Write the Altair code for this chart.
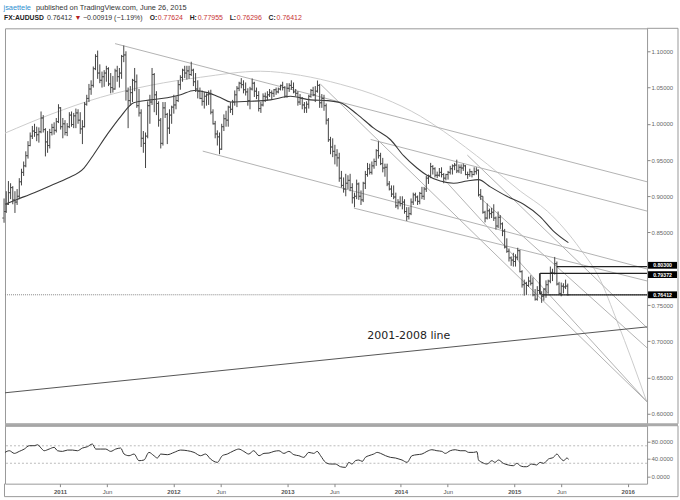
import altair as alt
import pandas as pd

# ---------------- data ----------------
# weekly bars (open, high, low, close), one list per calendar year
bars_2010 = [
    (0.8700, 0.8970, 0.8635, 0.8790), (0.8790, 0.9070, 0.8770, 0.8890), (0.8890, 0.9210, 0.8880, 0.9050),
    (0.9050, 0.9180, 0.8960, 0.9120), (0.9120, 0.9140, 0.8890, 0.8950), (0.8950, 0.9070, 0.8770, 0.8920),
    (0.8920, 0.9100, 0.8880, 0.9000), (0.9000, 0.9250, 0.8960, 0.9200), (0.9200, 0.9380, 0.9150, 0.9330),
    (0.9330, 0.9480, 0.9280, 0.9420), (0.9420, 0.9620, 0.9400, 0.9560), (0.9560, 0.9760, 0.9520, 0.9700),
    (0.9700, 0.9880, 0.9690, 0.9830), (0.9830, 0.9970, 0.9790, 0.9900), (0.9900, 1.0000, 0.9820, 0.9880),
    (0.9880, 0.9960, 0.9760, 0.9850), (0.9850, 0.9950, 0.9740, 0.9890), (0.9890, 1.0170, 0.9870, 1.0080),
    (1.0080, 1.0120, 0.9880, 0.9920), (0.9920, 0.9940, 0.9550, 0.9750), (0.9750, 0.9900, 0.9600, 0.9700),
    (0.9700, 0.9930, 0.9660, 0.9880), (0.9880, 1.0000, 0.9840, 0.9950), (0.9950, 1.0020, 0.9850, 0.9910),
    (0.9910, 1.0080, 0.9880, 1.0030), (1.0030, 1.0270, 1.0010, 1.0220),
]
bars_2011 = [
    (1.0220, 1.0230, 0.9920, 0.9960), (0.9960, 1.0080, 0.9800, 1.0000), (1.0000, 1.0050, 0.9840, 0.9880),
    (0.9880, 1.0010, 0.9830, 0.9960), (0.9960, 1.0160, 0.9940, 1.0120), (1.0120, 1.0170, 0.9960, 0.9990),
    (0.9990, 1.0150, 0.9940, 1.0110), (1.0110, 1.0210, 0.9940, 1.0150), (1.0150, 1.0200, 1.0000, 1.0050),
    (1.0050, 1.0160, 0.9860, 0.9930), (0.9930, 1.0050, 0.9720, 0.9960), (0.9960, 1.0300, 0.9950, 1.0270),
    (1.0270, 1.0400, 1.0250, 1.0350), (1.0350, 1.0550, 1.0300, 1.0480), (1.0480, 1.0600, 1.0400, 1.0530),
    (1.0530, 1.0790, 1.0500, 1.0760), (1.0760, 1.0960, 1.0740, 1.0930), (1.0930, 1.1010, 1.0620, 1.0700),
    (1.0700, 1.0820, 1.0560, 1.0600), (1.0600, 1.0720, 1.0500, 1.0650), (1.0650, 1.0740, 1.0510, 1.0700),
    (1.0700, 1.0800, 1.0580, 1.0760), (1.0760, 1.0780, 1.0520, 1.0550), (1.0550, 1.0700, 1.0420, 1.0500),
    (1.0500, 1.0660, 1.0430, 1.0480), (1.0480, 1.0760, 1.0470, 1.0730), (1.0730, 1.0800, 1.0580, 1.0650),
    (1.0650, 1.0770, 1.0500, 1.0700), (1.0700, 1.0950, 1.0620, 1.0930), (1.0930, 1.1080, 1.0850, 1.0950),
    (1.0950, 1.1000, 1.0320, 1.0450), (1.0450, 1.0500, 0.9940, 1.0320), (1.0320, 1.0520, 1.0250, 1.0430),
    (1.0430, 1.0620, 1.0300, 1.0600), (1.0600, 1.0770, 1.0450, 1.0580), (1.0580, 1.0680, 1.0220, 1.0250),
    (1.0250, 1.0480, 1.0100, 1.0150), (1.0150, 1.0200, 0.9680, 0.9800), (0.9800, 0.9900, 0.9600, 0.9730),
    (0.9730, 0.9880, 0.9390, 0.9830), (0.9830, 1.0310, 0.9800, 1.0250), (1.0250, 1.0400, 1.0000, 1.0300),
    (1.0300, 1.0770, 1.0260, 1.0680), (1.0680, 1.0700, 1.0160, 1.0400), (1.0400, 1.0450, 1.0120, 1.0280),
    (1.0280, 1.0310, 0.9960, 1.0050), (1.0050, 1.0080, 0.9660, 0.9730), (0.9730, 1.0300, 0.9700, 1.0220),
    (1.0220, 1.0300, 1.0080, 1.0130), (1.0130, 1.0150, 0.9720, 0.9940), (0.9940, 1.0200, 0.9860, 1.0120),
    (1.0120, 1.0250, 1.0000, 1.0230),
]
bars_2012 = [
    (1.0230, 1.0400, 1.0140, 1.0260), (1.0260, 1.0380, 1.0200, 1.0320), (1.0320, 1.0600, 1.0300, 1.0540),
    (1.0540, 1.0670, 1.0470, 1.0640), (1.0640, 1.0760, 1.0580, 1.0740), (1.0740, 1.0800, 1.0630, 1.0700),
    (1.0700, 1.0800, 1.0610, 1.0730), (1.0730, 1.0800, 1.0620, 1.0680), (1.0680, 1.0856, 1.0660, 1.0740),
    (1.0740, 1.0760, 1.0520, 1.0580), (1.0580, 1.0700, 1.0440, 1.0480), (1.0480, 1.0600, 1.0350, 1.0450),
    (1.0450, 1.0500, 1.0340, 1.0350), (1.0350, 1.0460, 1.0250, 1.0310), (1.0310, 1.0440, 1.0210, 1.0380),
    (1.0380, 1.0420, 1.0250, 1.0400), (1.0400, 1.0460, 1.0260, 1.0410), (1.0410, 1.0470, 1.0130, 1.0160),
    (1.0160, 1.0200, 0.9990, 1.0000), (1.0000, 1.0040, 0.9800, 0.9860), (0.9860, 0.9910, 0.9700, 0.9820),
    (0.9820, 0.9880, 0.9580, 0.9650), (0.9650, 1.0000, 0.9640, 0.9960), (0.9960, 1.0130, 0.9900, 1.0070),
    (1.0070, 1.0180, 0.9960, 1.0050), (1.0050, 1.0250, 0.9960, 1.0230), (1.0230, 1.0300, 1.0150, 1.0200),
    (1.0200, 1.0330, 1.0120, 1.0300), (1.0300, 1.0460, 1.0250, 1.0400), (1.0400, 1.0520, 1.0230, 1.0490),
    (1.0490, 1.0580, 1.0450, 1.0560), (1.0560, 1.0630, 1.0490, 1.0540), (1.0540, 1.0600, 1.0420, 1.0470),
    (1.0470, 1.0570, 1.0390, 1.0440), (1.0440, 1.0490, 1.0250, 1.0320), (1.0320, 1.0510, 1.0200, 1.0480),
    (1.0480, 1.0625, 1.0460, 1.0560), (1.0560, 1.0580, 1.0370, 1.0450), (1.0450, 1.0500, 1.0340, 1.0390),
    (1.0390, 1.0450, 1.0170, 1.0210), (1.0210, 1.0300, 1.0150, 1.0260), (1.0260, 1.0420, 1.0240, 1.0380),
    (1.0380, 1.0430, 1.0300, 1.0370), (1.0370, 1.0450, 1.0320, 1.0400), (1.0400, 1.0480, 1.0370, 1.0430),
    (1.0430, 1.0460, 1.0330, 1.0420), (1.0420, 1.0480, 1.0370, 1.0470), (1.0470, 1.0500, 1.0400, 1.0440),
    (1.0440, 1.0500, 1.0420, 1.0480), (1.0480, 1.0540, 1.0460, 1.0530), (1.0530, 1.0580, 1.0460, 1.0500),
    (1.0500, 1.0520, 1.0360, 1.0380), (1.0380, 1.0560, 1.0360, 1.0490),
]
bars_2013 = [
    (1.0490, 1.0560, 1.0440, 1.0530), (1.0530, 1.0600, 1.0470, 1.0500), (1.0500, 1.0570, 1.0420, 1.0440),
    (1.0440, 1.0480, 1.0380, 1.0420), (1.0420, 1.0450, 1.0250, 1.0300), (1.0300, 1.0410, 1.0260, 1.0350),
    (1.0350, 1.0370, 1.0200, 1.0260), (1.0260, 1.0300, 1.0150, 1.0220), (1.0220, 1.0310, 1.0150, 1.0270),
    (1.0270, 1.0400, 1.0210, 1.0380), (1.0380, 1.0480, 1.0360, 1.0460), (1.0460, 1.0510, 1.0380, 1.0400),
    (1.0400, 1.0520, 1.0300, 1.0450), (1.0450, 1.0597, 1.0430, 1.0530), (1.0530, 1.0550, 1.0220, 1.0290),
    (1.0290, 1.0410, 1.0220, 1.0350), (1.0350, 1.0400, 1.0180, 1.0250), (1.0250, 1.0280, 0.9990, 1.0050),
    (1.0050, 1.0080, 0.9750, 0.9780), (0.9780, 0.9820, 0.9580, 0.9680), (0.9680, 0.9800, 0.9540, 0.9620),
    (0.9620, 0.9710, 0.9440, 0.9570), (0.9570, 0.9650, 0.9410, 0.9530), (0.9530, 0.9600, 0.9200, 0.9250),
    (0.9250, 0.9350, 0.9120, 0.9150), (0.9150, 0.9260, 0.9050, 0.9100), (0.9100, 0.9310, 0.9000, 0.9180),
    (0.9180, 0.9290, 0.9100, 0.9220), (0.9220, 0.9310, 0.9070, 0.9120), (0.9120, 0.9180, 0.8900, 0.8980),
    (0.8980, 0.9050, 0.8848, 0.9000), (0.9000, 0.9230, 0.8960, 0.9170), (0.9170, 0.9190, 0.8950, 0.9000),
    (0.9000, 0.9080, 0.8880, 0.8950), (0.8950, 0.9200, 0.8920, 0.9180), (0.9180, 0.9350, 0.9100, 0.9300),
    (0.9300, 0.9460, 0.9270, 0.9380), (0.9380, 0.9450, 0.9300, 0.9330), (0.9330, 0.9480, 0.9300, 0.9420),
    (0.9420, 0.9520, 0.9380, 0.9480), (0.9480, 0.9650, 0.9420, 0.9630), (0.9630, 0.9758, 0.9520, 0.9560),
    (0.9560, 0.9600, 0.9430, 0.9450), (0.9450, 0.9530, 0.9330, 0.9390), (0.9390, 0.9450, 0.9270, 0.9400),
    (0.9400, 0.9450, 0.9140, 0.9170), (0.9170, 0.9210, 0.9080, 0.9100), (0.9100, 0.9150, 0.8990, 0.9030),
    (0.9030, 0.9150, 0.8960, 0.8990), (0.8990, 0.9050, 0.8840, 0.8870), (0.8870, 0.8960, 0.8820, 0.8920),
    (0.8920, 0.9000, 0.8860, 0.8900),
]
bars_2014 = [
    (0.8900, 0.9000, 0.8820, 0.8920), (0.8920, 0.8960, 0.8760, 0.8790), (0.8790, 0.8850, 0.8660, 0.8720),
    (0.8720, 0.8850, 0.8680, 0.8760), (0.8760, 0.8970, 0.8740, 0.8920), (0.8920, 0.9050, 0.8880, 0.9020),
    (0.9020, 0.9050, 0.8930, 0.8990), (0.8990, 0.9010, 0.8880, 0.8930), (0.8930, 0.9060, 0.8890, 0.9040),
    (0.9040, 0.9130, 0.8960, 0.9000), (0.9000, 0.9130, 0.8950, 0.9100), (0.9100, 0.9280, 0.9060, 0.9250),
    (0.9250, 0.9300, 0.9170, 0.9280), (0.9280, 0.9461, 0.9250, 0.9410), (0.9410, 0.9430, 0.9300, 0.9380),
    (0.9380, 0.9400, 0.9260, 0.9290), (0.9290, 0.9340, 0.9250, 0.9290), (0.9290, 0.9390, 0.9270, 0.9330),
    (0.9330, 0.9400, 0.9260, 0.9300), (0.9300, 0.9320, 0.9180, 0.9250), (0.9250, 0.9310, 0.9220, 0.9300),
    (0.9300, 0.9350, 0.9230, 0.9330), (0.9330, 0.9420, 0.9300, 0.9380), (0.9380, 0.9440, 0.9300, 0.9420),
    (0.9420, 0.9460, 0.9360, 0.9430), (0.9430, 0.9505, 0.9320, 0.9350), (0.9350, 0.9440, 0.9320, 0.9400),
    (0.9400, 0.9440, 0.9310, 0.9390), (0.9390, 0.9450, 0.9350, 0.9420), (0.9420, 0.9430, 0.9290, 0.9300),
    (0.9300, 0.9340, 0.9240, 0.9300), (0.9300, 0.9380, 0.9270, 0.9340), (0.9340, 0.9350, 0.9260, 0.9300),
    (0.9300, 0.9400, 0.9290, 0.9340), (0.9340, 0.9400, 0.9300, 0.9360), (0.9360, 0.9370, 0.9000, 0.9020),
    (0.9020, 0.9100, 0.8950, 0.9000), (0.9000, 0.9000, 0.8760, 0.8780), (0.8780, 0.8800, 0.8640, 0.8700),
    (0.8700, 0.8900, 0.8680, 0.8800), (0.8800, 0.8830, 0.8690, 0.8760), (0.8760, 0.8840, 0.8700, 0.8780),
    (0.8780, 0.8890, 0.8660, 0.8700), (0.8700, 0.8720, 0.8540, 0.8590), (0.8590, 0.8790, 0.8560, 0.8710),
    (0.8710, 0.8740, 0.8550, 0.8620), (0.8620, 0.8640, 0.8450, 0.8520), (0.8520, 0.8550, 0.8280, 0.8300),
    (0.8300, 0.8420, 0.8220, 0.8240), (0.8240, 0.8280, 0.8100, 0.8150), (0.8150, 0.8170, 0.8040, 0.8120),
    (0.8120, 0.8220, 0.8030, 0.8100),
]
bars_2015 = [
    (0.8100, 0.8200, 0.8030, 0.8160), (0.8160, 0.8290, 0.8120, 0.8250), (0.8250, 0.8260, 0.7950, 0.7960),
    (0.7960, 0.7980, 0.7740, 0.7780), (0.7780, 0.7850, 0.7630, 0.7800), (0.7800, 0.7820, 0.7640, 0.7770),
    (0.7770, 0.7890, 0.7750, 0.7830), (0.7830, 0.7910, 0.7770, 0.7800), (0.7800, 0.7880, 0.7620, 0.7640),
    (0.7640, 0.7720, 0.7560, 0.7580), (0.7580, 0.7760, 0.7560, 0.7700), (0.7700, 0.7937, 0.7660, 0.7660),
    (0.7660, 0.7690, 0.7530, 0.7620), (0.7620, 0.7730, 0.7560, 0.7720), (0.7720, 0.7840, 0.7600, 0.7780),
    (0.7780, 0.7850, 0.7660, 0.7830), (0.7830, 0.8030, 0.7800, 0.7950), (0.7950, 0.8000, 0.7830, 0.7940),
    (0.7940, 0.8163, 0.7920, 0.8070), (0.8070, 0.8100, 0.7770, 0.7790), (0.7790, 0.7820, 0.7640, 0.7660),
    (0.7660, 0.7810, 0.7620, 0.7760), (0.7760, 0.7800, 0.7660, 0.7750), (0.7750, 0.7850, 0.7720, 0.7760),
    (0.77624, 0.77955, 0.76296, 0.76412),
]
first_week = "2010-07-05"

# moving average (sampled along the drawn curve)
ma_dates = ["2010-07-08", "2010-08-18", "2010-10-10", "2010-12-03", "2011-01-25", "2011-03-19", "2011-04-20",
            "2011-06-03", "2011-07-15", "2011-08-26", "2011-10-20", "2011-12-12", "2012-01-24", "2012-03-07",
            "2012-04-19", "2012-06-01", "2012-07-03", "2012-09-05", "2012-11-08", "2013-01-11", "2013-03-17",
            "2013-05-10", "2013-06-21", "2013-08-14", "2013-10-06", "2013-11-29", "2014-01-10", "2014-02-22",
            "2014-03-26", "2014-05-08", "2014-06-20", "2014-08-02", "2014-09-08", "2014-10-16", "2014-12-08",
            "2015-01-31", "2015-03-25", "2015-05-07", "2015-06-24"]
ma_values = [0.889, 0.896, 0.905, 0.915, 0.925, 0.939, 0.958, 0.986, 1.010, 1.029, 1.033, 1.036, 1.040, 1.046,
             1.043, 1.036, 1.030, 1.031, 1.033, 1.038, 1.033, 1.032, 1.029, 1.013, 0.994, 0.978, 0.956, 0.939,
             0.929, 0.921, 0.918, 0.921, 0.923, 0.913, 0.900, 0.889, 0.872, 0.852, 0.836]

# RSI sub-panel
rsi_dates = ["2010-07-08", "2010-07-22", "2010-08-07", "2010-08-23", "2010-09-08", "2010-09-24", "2010-10-10",
             "2010-10-21", "2010-11-01", "2010-11-11", "2010-11-27", "2010-12-13", "2010-12-24", "2011-01-09",
             "2011-01-25", "2011-02-10", "2011-02-26", "2011-03-14", "2011-03-30", "2011-04-15", "2011-04-26",
             "2011-05-12", "2011-05-28", "2011-06-13", "2011-06-29", "2011-07-15", "2011-07-26", "2011-08-11",
             "2011-08-27", "2011-09-12", "2011-09-28", "2011-10-14", "2011-10-30", "2011-11-10", "2011-11-21",
             "2011-12-12", "2012-01-03", "2012-01-24", "2012-02-15", "2012-03-07", "2012-03-28", "2012-04-13",
             "2012-04-29", "2012-05-21", "2012-06-06", "2012-06-22", "2012-07-13", "2012-07-29", "2012-08-14",
             "2012-08-30", "2012-09-15", "2012-10-02", "2012-10-18", "2012-11-03", "2012-11-19", "2012-12-05",
             "2012-12-21", "2013-01-06", "2013-01-22", "2013-02-07", "2013-02-23", "2013-03-11", "2013-03-27",
             "2013-04-07", "2013-04-18", "2013-05-04", "2013-05-20", "2013-06-05", "2013-06-21", "2013-07-07",
             "2013-07-18", "2013-07-28", "2013-08-08", "2013-08-19", "2013-08-30", "2013-09-09", "2013-09-20",
             "2013-10-06", "2013-10-17", "2013-10-28", "2013-11-13", "2013-11-29", "2013-12-15", "2013-12-26",
             "2014-01-05", "2014-01-21", "2014-02-06", "2014-02-22", "2014-03-10", "2014-03-26", "2014-04-11",
             "2014-04-27", "2014-05-13", "2014-05-24", "2014-06-09", "2014-06-25", "2014-07-11", "2014-07-27",
             "2014-08-07", "2014-08-23", "2014-09-03", "2014-09-08", "2014-09-19", "2014-10-05", "2014-10-21",
             "2014-10-31", "2014-11-11", "2014-11-27", "2014-12-13", "2014-12-29", "2015-01-09", "2015-01-20",
             "2015-01-31", "2015-02-10", "2015-02-26", "2015-03-14", "2015-03-25", "2015-04-05", "2015-04-21",
             "2015-05-07", "2015-05-18", "2015-05-29", "2015-06-09", "2015-06-19", "2015-06-25"]
rsi_values = [54.9, 58.7, 52.6, 57.2, 62.5, 70.2, 70.2, 72.4, 64.8, 58.7, 62.5, 66.4, 58.7, 57.2,
              60.2, 60.2, 58.7, 64.8, 67.9, 74.0, 62.5, 62.5, 62.5, 57.2, 62.5, 64.8, 51.1, 47.3,
              51.1, 35.9, 37.4, 54.9, 47.3, 42.0, 51.1, 49.6, 54.9, 60.2, 58.7, 54.9, 47.3, 51.1,
              39.7, 32.1, 47.3, 51.1, 58.7, 62.5, 57.2, 51.1, 58.7, 47.3, 52.6, 53.4, 57.2, 58.7,
              52.6, 57.2, 49.6, 47.3, 43.5, 54.9, 52.6, 57.2, 47.3, 32.1, 28.2, 28.2, 22.1, 20.6,
              32.1, 28.2, 35.9, 37.4, 34.3, 43.5, 47.3, 51.1, 54.9, 52.6, 47.3, 43.5, 42.0, 39.7,
              37.4, 32.1, 47.3, 49.6, 51.1, 57.2, 61.0, 58.7, 57.2, 52.6, 58.7, 61.0, 58.7, 58.7,
              54.9, 54.9, 56.4, 37.4, 32.1, 28.2, 35.9, 32.1, 37.4, 29.8, 26.0, 24.4, 29.8, 24.4,
              22.1, 22.1, 28.2, 26.0, 32.1, 29.8, 39.7, 43.5, 51.1, 42.0, 35.9, 42.0, 39.0]

# straight trend lines (start date, start price) -> (end date, end price)
trend_start_dates = ["2011-06-27", "2013-09-26", "2012-04-04", "2013-08-03", "2013-04-18", "2014-08-03",
                     "2014-09-07", "2014-06-03"]
trend_start_values = [1.1106, 0.9784, 0.9623, 0.8837, 1.0545, 0.9568, 0.9003, 0.9168]
trend_end_dates = ["2016-03-03"] * 8
trend_end_values = [0.9200, 0.8796, 0.7997, 0.7832, 0.6165, 0.7185, 0.6909, 0.6165]

# the "2001-2008 line"
line0108_dates = ["2010-07-08", "2016-03-03"]
line0108_values = [0.6289, 0.7198]
line0108_label = "2001-2008 line"
line0108_label_date = "2013-09-15"
line0108_label_value = 0.7074

# curved arc
arc_dates = ["2010-07-08", "2010-12-03", "2011-05-12", "2011-10-20", "2012-03-28", "2012-10-07", "2013-02-12",
             "2013-06-21", "2013-11-06", "2014-03-05", "2014-05-18", "2014-10-06", "2015-01-20", "2015-04-17",
             "2015-08-01", "2015-10-03", "2015-11-27", "2016-01-15", "2016-03-02"]
arc_values = [0.9871, 1.0132, 1.0366, 1.0532, 1.0642, 1.0725, 1.0669, 1.0545, 1.0353, 1.0105, 0.9898, 0.9444,
              0.9072, 0.8796, 0.8273, 0.7860, 0.7281, 0.6730, 0.6165]

# horizontal levels with their price tags
level_values = [0.80300, 0.79372, 0.76412]
level_labels = ["0.80300", "0.79372", "0.76412"]
level_start_dates = ["2015-05-18", "2015-03-25", "2015-03-31"]
level_end_date = "2016-03-03"
box_edge_date = "2015-03-25"
box_edge_values = [0.76412, 0.79372]
last_close = 0.76412

# 0.80000 sits underneath the price tags (hidden in the picture), so it is not listed
price_ticks = [0.60, 0.65, 0.70, 0.75, 0.85, 0.90, 0.95, 1.00, 1.05, 1.10]
rsi_ticks = [0, 40, 80]
rsi_bands = [70, 30]

# ---------------- tables ----------------
all_bars = bars_2010 + bars_2011 + bars_2012 + bars_2013 + bars_2014 + bars_2015
ohlc = pd.DataFrame(all_bars, columns=["open", "high", "low", "close"])
ohlc["date"] = pd.date_range(first_week, periods=len(all_bars), freq="7D").strftime("%Y-%m-%d")
ma_df = pd.DataFrame({"date": ma_dates, "v": ma_values})
rsi_df = pd.DataFrame({"date": rsi_dates, "v": rsi_values})
trend_df = pd.DataFrame({"d1": trend_start_dates, "v1": trend_start_values,
                         "d2": trend_end_dates, "v2": trend_end_values})
l0108_df = pd.DataFrame({"d1": [line0108_dates[0]], "v1": [line0108_values[0]],
                         "d2": [line0108_dates[1]], "v2": [line0108_values[1]]})
lab_df = pd.DataFrame({"date": [line0108_label_date], "v": [line0108_label_value], "t": [line0108_label]})
arc_df = pd.DataFrame({"date": arc_dates, "v": arc_values})
lev_df = pd.DataFrame({"d1": level_start_dates, "d2": [level_end_date] * 3, "v": level_values, "t": level_labels})
edge_df = pd.DataFrame({"date": [box_edge_date], "v1": [box_edge_values[0]], "v2": [box_edge_values[1]]})
close_df = pd.DataFrame({"v": [last_close]})
band_df = pd.DataFrame({"v": rsi_bands})
one = pd.DataFrame({"a": [0]})

# ---------------- layout ----------------
W, H1, H2 = 643, 396, 58
FONT = "Liberation Sans"
xs = alt.Scale(type="utc", domain=[alt.DateTime(year=2010, month=7, date=8, utc=True),
                                   alt.DateTime(year=2016, month=3, date=3, utc=True)])
ys = alt.Scale(domain=[0.5862, 1.1317], zero=False, nice=False)
rs = alt.Scale(domain=[-16.7, 115.9], zero=False, nice=False)

yaxis = alt.Axis(orient="right", values=price_ticks, format=".5f", labelFontSize=6, labelFont=FONT,
                 labelColor="#666", tickColor="#888", tickSize=3, labelPadding=1, domain=False, grid=False)
raxis = alt.Axis(orient="right", values=rsi_ticks, format=".4f", labelFontSize=6, labelFont=FONT,
                 labelColor="#666", tickColor="#888", tickSize=3, labelPadding=1, domain=False, grid=False)
xticks = ([alt.DateTime(year=y, month=1, date=1, utc=True) for y in range(2011, 2017)] +
          [alt.DateTime(year=y, month=6, date=1, utc=True) for y in range(2011, 2016)])
xaxis = alt.Axis(values=xticks, labelFontSize=6, labelFont=FONT, labelColor="#555", tickColor="#888",
                 tickSize=3, labelPadding=2, domain=False, grid=False,
                 labelExpr="utcFormat(datum.value, '%m') == '01' ? utcFormat(datum.value, '%Y') : 'Jun'",
                 labelFontWeight={"condition": {"test": "utcFormat(datum.value, '%m') == '01'", "value": "bold"},
                                  "value": "normal"})


def X(f):
    return alt.X(f"{f}:T", scale=xs, axis=None, title=None)


def Y(f):
    return alt.Y(f"{f}:Q", scale=ys, axis=yaxis, title=None)


anchor_top = alt.Chart(one).mark_rule(stroke="white", strokeWidth=0.01).encode(
    x=alt.value(-4), x2=alt.value(W + 32), y=alt.value(-27))
frame_top = alt.Chart(one).mark_rule(stroke="#999", strokeWidth=1).encode(
    x=alt.value(W), x2=alt.value(W + 31), y=alt.value(0))
frame_right = alt.Chart(one).mark_rule(stroke="#999", strokeWidth=1).encode(
    x=alt.value(W + 31), y=alt.value(0), y2=alt.value(H1))
frame_sep = alt.Chart(one).mark_rule(stroke="#aaa", strokeWidth=3).encode(
    x=alt.value(0), x2=alt.value(W + 31), y=alt.value(H1 + 1))

arc = alt.Chart(arc_df).mark_line(color="#cccccc", strokeWidth=1, interpolate="monotone", clip=True).encode(
    x=X("date"), y=Y("v"))
trends = alt.Chart(trend_df).mark_rule(color="#b3b3b3", strokeWidth=1, clip=True).encode(
    x=X("d1"), x2="d2:T", y=Y("v1"), y2="v2:Q")
l0108 = alt.Chart(l0108_df).mark_rule(color="#555", strokeWidth=1, clip=True).encode(
    x=X("d1"), x2="d2:T", y=Y("v1"), y2="v2:Q")
l0108_text = alt.Chart(lab_df).mark_text(align="left", baseline="middle", font="DejaVu Sans", fontSize=11,
                                         color="#222").encode(x=X("date"), y=Y("v"), text="t:N")
close_dots = alt.Chart(close_df).mark_rule(color="#888", strokeWidth=1, strokeDash=[1, 1]).encode(y=Y("v"))
ma = alt.Chart(ma_df).mark_line(color="#3a3a3a", strokeWidth=1.1, interpolate="monotone").encode(
    x=X("date"), y=Y("v"))
hl = alt.Chart(ohlc).mark_rule(color="#444", strokeWidth=1).encode(x=X("date"), y=Y("low"), y2="high:Q")
op = alt.Chart(ohlc).mark_tick(color="#444", orient="horizontal", size=2, thickness=1, xOffset=-1).encode(
    x=X("date"), y=Y("open"))
cl = alt.Chart(ohlc).mark_tick(color="#444", orient="horizontal", size=2, thickness=1, xOffset=1).encode(
    x=X("date"), y=Y("close"))
levels = alt.Chart(lev_df).mark_rule(color="#222", strokeWidth=1.3, clip=True).encode(
    x=X("d1"), x2="d2:T", y=Y("v"))
edge = alt.Chart(edge_df).mark_rule(color="#222", strokeWidth=1.2).encode(x=X("date"), y=Y("v1"), y2="v2:Q")

# price tags: the two upper tags sit close together, so nudge them apart a little
tag_shift = {"0.80300": -1.3, "0.79372": 1.3, "0.76412": 0.0}
tag_layers = []
for lab, sh in tag_shift.items():
    src = alt.Chart(lev_df).transform_filter(alt.datum.t == lab)
    tag_layers.append(src.mark_rect(color="black", yOffset=-3.4 + sh, y2Offset=3.4 + sh).encode(
        x=alt.value(W + 1), x2=alt.value(W + 30), y=Y("v"), y2="v:Q"))
    tag_layers.append(src.mark_text(color="white", font=FONT, fontSize=5.2, fontWeight="bold", align="center",
                                    baseline="middle", dy=sh).encode(x=alt.value(W + 15.5), y=Y("v"), text="t:N"))

header_pieces = [
    ("jsaettele", 2.5, 6.5, "#2e8fd0", "normal", 7.4),
    ("published on TradingView.com, June 26, 2015", 35, 6.5, "#333", "normal", 7.4),
    ("FX:AUDUSD", 3, 16.5, "#222", "bold", 6.8),
    ("0.76412", 46, 16.5, "#333", "normal", 7.0),
    ("\u25bc", 73.5, 16.5, "#b52020", "normal", 7.0),
    ("\u22120.00919 (\u22121.19%)", 82, 16.5, "#333", "normal", 7.0),
    ("O:", 149, 16.5, "#222", "bold", 6.8),
    ("0.77624", 157, 16.5, "#c83232", "normal", 7.0),
    ("H:", 189, 16.5, "#222", "bold", 6.8),
    ("0.77955", 197, 16.5, "#c83232", "normal", 7.0),
    ("L:", 229, 16.5, "#222", "bold", 6.8),
    ("0.76296", 236, 16.5, "#c83232", "normal", 7.0),
    ("C:", 268, 16.5, "#222", "bold", 6.8),
    ("0.76412", 276, 16.5, "#c83232", "normal", 7.0),
]
headers = [
    alt.Chart(one).mark_text(text=t, align="left", baseline="middle", font=FONT, fontSize=fs, color=c,
                             fontWeight=w).encode(x=alt.value(px - 4), y=alt.value(py - 27))
    for (t, px, py, c, w, fs) in header_pieces
]

main = alt.layer(anchor_top, frame_top, frame_right, arc, trends, l0108, l0108_text, close_dots, ma,
                 hl, op, cl, levels, edge, *tag_layers, frame_sep, *headers).properties(width=W, height=H1)

# RSI panel
anchor_bot = alt.Chart(one).mark_rule(stroke="white", strokeWidth=0.01).encode(
    x=alt.value(-4), x2=alt.value(W + 32), y=alt.value(H2 + 17))
rf_right = alt.Chart(one).mark_rule(stroke="#999", strokeWidth=1).encode(
    x=alt.value(W + 31), y=alt.value(0), y2=alt.value(H2 + 13))
rf_bottom = alt.Chart(one).mark_rule(stroke="#999", strokeWidth=1).encode(
    x=alt.value(-0.5), x2=alt.value(W + 31), y=alt.value(H2 + 13))
rf_left = alt.Chart(one).mark_rule(stroke="#999", strokeWidth=1).encode(
    x=alt.value(-0.5), y=alt.value(H2), y2=alt.value(H2 + 13))
bands = alt.Chart(band_df).mark_rule(color="#bbb", strokeWidth=1, strokeDash=[2, 2]).encode(
    y=alt.Y("v:Q", scale=rs, axis=raxis, title=None))
rsi = alt.Chart(rsi_df).mark_line(color="#333", strokeWidth=1, interpolate="monotone").encode(
    x=alt.X("date:T", scale=xs, axis=xaxis, title=None), y=alt.Y("v:Q", scale=rs, axis=raxis, title=None))
lower = alt.layer(anchor_bot, rf_right, rf_bottom, rf_left, bands, rsi).properties(width=W, height=H2)

chart = alt.vconcat(main, lower, spacing=2, bounds="flush").properties(
    padding={"left": 0, "top": 0, "right": 0, "bottom": 0}, background="white"
).configure_view(stroke="#999", strokeWidth=1)

chart.save("out.html", embed_options={"renderer": "svg", "actions": False})
